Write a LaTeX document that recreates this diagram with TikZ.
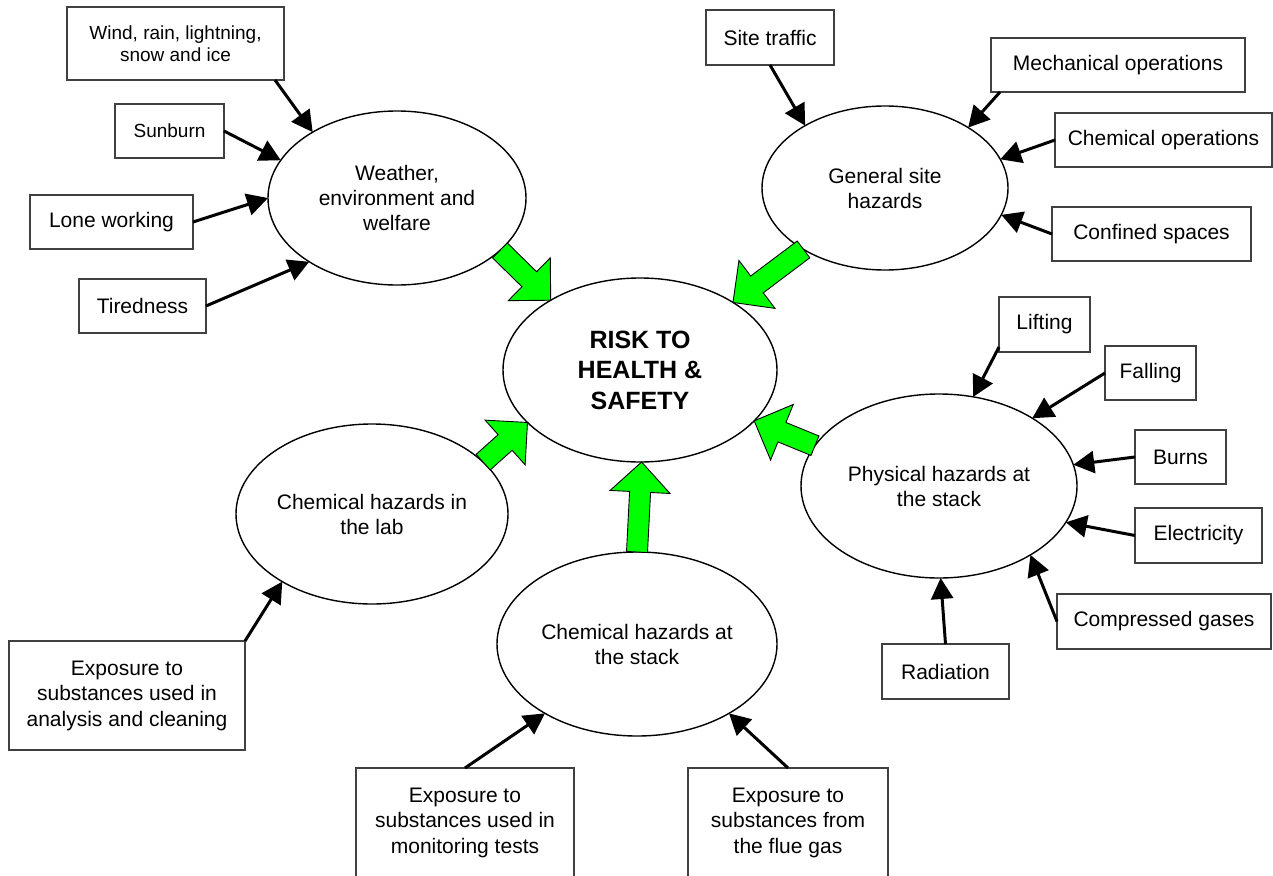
\documentclass[tikz,border=0pt]{standalone}
\usepackage{fontspec}
\setmainfont{Liberation Sans}
\usetikzlibrary{shapes.geometric,arrows.meta,calc}
\newcommand\garrow[2]{%
 \coordinate (gaH) at ($(#2)!30pt!(#1)$);
 \draw[big] ($(#1)!10.5pt!90:(#2)$) -- ($(gaH)!10.5pt!90:(#2)$) -- ($(gaH)!30pt!90:(#2)$) -- (#2) -- ($(gaH)!30pt!-90:(#2)$) -- ($(gaH)!10.5pt!-90:(#2)$) -- ($(#1)!10.5pt!-90:(#2)$) -- cycle;}
\begin{document}
\begin{tikzpicture}[x=1pt,y=-1pt,
 box/.style={draw=black!75,line width=1.2pt,rectangle,inner sep=0pt,outer sep=0pt,align=center,font=\fontsize{21}{25.5}\selectfont},
 sbox/.style={box,font=\fontsize{19}{21.7}\selectfont},
 hz/.style={draw,line width=1.4pt,ellipse,inner sep=0pt,outer sep=0pt,align=center,font=\fontsize{21}{25}\selectfont},
 feed/.style={line width=3pt,-{Triangle[length=21pt,width=22pt]}},
 big/.style={fill=green,draw=black,line width=0.9pt,line join=miter}
]
\useasboundingbox (0,0) rectangle (1273,875);
\fill[white] (0,0) rectangle (1273,875);
% hazard ellipses
\node[hz,minimum width=258pt,minimum height=174pt] (weather) at (397,198) {Weather,\\environment and\\welfare};
\node[hz,minimum width=246pt,minimum height=164pt] (general) at (885,188) {General site\\hazards};
\node[hz,minimum width=274pt,minimum height=184pt,font=\bfseries\fontsize{25}{30.5}\selectfont] (risk) at (640,370) {RISK TO\\HEALTH \&\\SAFETY};
\node[hz,minimum width=276pt,minimum height=184pt] (physical) at (939,486) {Physical hazards at\\the stack};
\node[hz,minimum width=272pt,minimum height=180pt] (lab) at (372,514) {Chemical hazards in\\the lab};
\node[hz,minimum width=280pt,minimum height=184pt] (chemstack) at (637,644) {Chemical hazards at\\the stack};
% boxes
\node[sbox,minimum width=217pt,minimum height=73pt] (wind) at (175.5,43.5) {Wind, rain, lightning,\\snow and ice};
\node[sbox,minimum width=109pt,minimum height=54pt] (sunburn) at (169.5,131) {Sunburn};
\node[box,minimum width=163pt,minimum height=54pt] (lone) at (111.5,222) {Lone working};
\node[box,minimum width=127pt,minimum height=54pt] (tired) at (142.5,306) {Tiredness};
\node[box,minimum width=128pt,minimum height=55pt] (site) at (770,37.5) {Site traffic};
\node[box,minimum width=254pt,minimum height=54pt] (mech) at (1118,65) {Mechanical operations};
\node[box,minimum width=217pt,minimum height=54pt] (chemops) at (1163.5,140) {Chemical operations};
\node[box,minimum width=199pt,minimum height=54pt] (confined) at (1151.5,234) {Confined spaces};
\node[box,minimum width=91pt,minimum height=55pt] (lifting) at (1044.5,324.5) {Lifting};
\node[box,minimum width=91pt,minimum height=54pt] (falling) at (1150.5,373) {Falling};
\node[box,minimum width=91pt,minimum height=54pt] (burns) at (1180.5,457) {Burns};
\node[box,minimum width=127pt,minimum height=55pt] (elec) at (1198.5,535.5) {Electricity};
\node[box,minimum width=214pt,minimum height=55pt] (comp) at (1164,621.5) {Compressed gases};
\node[box,minimum width=127pt,minimum height=55pt] (rad) at (945.5,671.5) {Radiation};
\node[box,minimum width=236pt,minimum height=109pt] (analysis) at (127,695.5) {Exposure to\\substances used in\\analysis and cleaning};
\node[box,minimum width=218pt,minimum height=109pt] (monitor) at (465,822.5) {Exposure to\\substances used in\\monitoring tests};
\node[box,minimum width=200pt,minimum height=109pt] (flue) at (788,822.5) {Exposure to\\substances from\\the flue gas};
% green arrows
\garrow{weather.-27}{risk.142.8}
\garrow{general.217.2}{risk.36.6}
\garrow{lab.25}{risk.205.5}
\garrow{physical.162}{risk.-24.3}
\garrow{chemstack.90}{risk.-89.4}
% black arrows
\draw[feed] ($(wind.south east)+(-9,0)$) -- (weather.142.8);
\draw[feed] (sunburn.east) -- (weather.162.7);
\draw[feed] (lone.east) -- (weather.180);
\draw[feed] (tired.east) -- (weather.216.8);
\draw[feed] (site.south) -- (general.142.9);
\draw[feed] ($(mech.south west)+(9,0)$) -- (general.36.3);
\draw[feed] (chemops.west) -- (general.14.6);
\draw[feed] (confined.west) -- (general.-13);
\draw[feed] ($(lifting.south west)+(0,-5)$) -- (physical.69.1);
\draw[feed] (falling.west) -- (physical.36.6);
\draw[feed] (burns.west) -- (physical.9.7);
\draw[feed] (elec.west) -- (physical.-16.2);
\draw[feed] (comp.west) -- (physical.-37.7);
\draw[feed] (rad.north) -- (physical.-89.4);
\draw[feed] (analysis.north east) -- (lab.217.2);
\draw[feed] (monitor.north) -- (chemstack.217.4);
\draw[feed] (flue.north) -- (chemstack.-37);
\end{tikzpicture}
\end{document}
